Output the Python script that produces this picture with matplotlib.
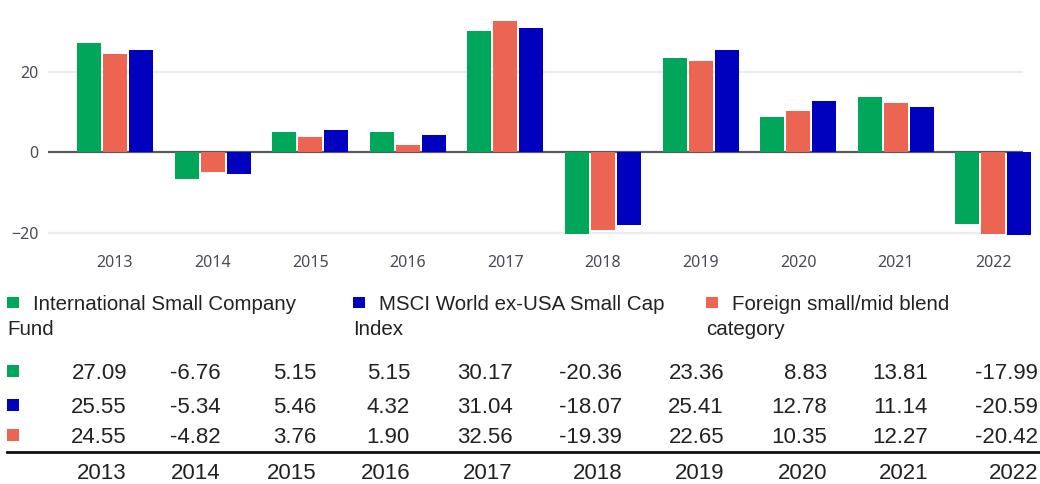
import matplotlib
matplotlib.use("Agg")
import matplotlib.pyplot as plt
from matplotlib.patches import Rectangle

W, H = 1040, 484

anni = ["2013", "2014", "2015", "2016", "2017", "2018", "2019", "2020", "2021", "2022"]
fondo      = [27.09, -6.76, 5.15, 5.15, 30.17, -20.36, 23.36, 8.83, 13.81, -17.99]
indice     = [25.55, -5.34, 5.46, 4.32, 31.04, -18.07, 25.41, 12.78, 11.14, -20.59]
categoria  = [24.55, -4.82, 3.76, 1.90, 32.56, -19.39, 22.65, 10.35, 12.27, -20.42]

nome_fondo     = ["International Small Company", "Fund"]
nome_indice    = ["MSCI World ex-USA Small Cap", "Index"]
nome_categoria = ["Foreign small/mid blend", "category"]

VERDE = "#00a659"
BLU   = "#0000bf"
ROSSO = "#ec6553"
GRIGIO_TICK = "#4a4a55"
TESTO = "#222222"

TAB_FONT = ["Liberation Sans", "DejaVu Sans"]


def fx(px):
    return px / W


def fy(py):
    return 1 - py / H


def quadrato(fig, x, y, w, h, colore):
    fig.patches.append(Rectangle((fx(x), fy(y + h)), w / W, h / H,
                                 transform=fig.transFigure, color=colore,
                                 linewidth=0))


def grafico_barre(fig):
    ax = fig.add_axes([fx(48), fy(245), (1023 - 48) / W, 245 / H])
    pos = list(range(len(anni)))
    larg = 0.246
    off = 0.266
    for serie, colore, d in [(fondo, VERDE, -off), (categoria, ROSSO, 0), (indice, BLU, off)]:
        ax.bar([p + d for p in pos], serie, width=larg, color=colore,
               linewidth=0, clip_on=False, zorder=3)

    ax.set_xlim(-0.686, 9.303)
    ax.set_ylim(-23.1, 37.9)
    ax.set_yticks([-20, 0, 20])
    ax.set_xticks(pos)
    ax.set_xticklabels(anni)
    for y in (-20, 20):
        ax.axhline(y, color="#ececec", linewidth=1.6, zorder=1)
    ax.axhline(0, color="#5a5a5a", linewidth=1.6, zorder=2)
    ax.tick_params(length=0, labelsize=11.5, labelcolor=GRIGIO_TICK)
    ax.tick_params(axis="y", pad=7)
    ax.tick_params(axis="x", pad=7)
    for lab in ax.get_xticklabels() + ax.get_yticklabels():
        lab.set_fontfamily("Noto Sans")
    for spine in ax.spines.values():
        spine.set_visible(False)
    ax.patch.set_alpha(0)


def legenda(fig):
    voci = [(nome_fondo, VERDE, 7), (nome_indice, BLU, 353), (nome_categoria, ROSSO, 706)]
    for righe, colore, x0 in voci:
        quadrato(fig, x0, 297, 12, 11, colore)
        fig.text(fx(x0 + 26), fy(310), righe[0], fontsize=14.8, color=TESTO,
                 family=TAB_FONT, ha="left", va="baseline")
        fig.text(fx(x0), fy(335), righe[1], fontsize=14.8, color=TESTO,
                 family=TAB_FONT, ha="left", va="baseline")


def tabella(fig):
    col_dx = [127, 221, 316, 410, 513, 622, 724, 827, 928, 1038]
    righe = [(fondo, VERDE, 371), (indice, BLU, 405), (categoria, ROSSO, 435)]
    for serie, colore, yc in righe:
        quadrato(fig, 7, yc - 6, 12, 12, colore)
        for v, x in zip(serie, col_dx):
            fig.text(fx(x), fy(yc + 8), f"{v:.2f}", fontsize=16, color=TESTO,
                     family=TAB_FONT, ha="right", va="baseline")

    fig.add_artist(plt.Line2D([fx(7), fx(1040)], [fy(452), fy(452)],
                              transform=fig.transFigure, color="#111111",
                              linewidth=2))
    for a, x in zip(anni, col_dx):
        fig.text(fx(x), fy(479), a, fontsize=16, color=TESTO,
                 family=TAB_FONT, ha="right", va="baseline")


def main():
    fig = plt.figure(figsize=(W / 100, H / 100), dpi=100)
    fig.patch.set_facecolor("white")
    grafico_barre(fig)
    legenda(fig)
    tabella(fig)
    fig.savefig("out.png", dpi=100)


if __name__ == "__main__":
    main()
